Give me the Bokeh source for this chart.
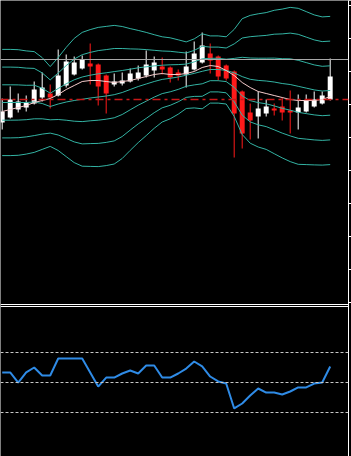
from bokeh.plotting import figure
from bokeh.models import Range1d, LinearAxis, FixedTicker, Span, BoxAnnotation, ColumnDataSource
from bokeh.embed import file_html
from bokeh.resources import INLINE

# ---- data (price units; axis labels are cut off) ----
opens  = [378, 383, 391, 393, 397, 403, 407, 405, 415, 426, 432, 437, 436, 425, 416, 417, 419, 422, 425, 430, 434,
          433, 428, 426, 431, 438, 447, 444, 435, 429, 409, 388, 384, 387, 392, 394, 390, 388, 389, 394, 397, 401]
closes = [389, 401, 399, 398, 411, 413, 403, 425, 439, 438, 441, 434, 414, 407, 419, 420, 427, 428, 436, 438, 431,
          423, 425, 434, 447, 455, 440, 424, 422, 387, 367, 380, 392, 394, 390, 388, 388, 393, 400, 401, 405, 424]
highs  = [402, 414, 407, 405, 419, 428, 416, 451, 446, 444, 445, 457, 437, 426, 427, 428, 432, 435, 450, 444, 443,
          434, 431, 449, 459, 468, 457, 445, 436, 430, 410, 397, 409, 401, 397, 403, 410, 406, 406, 409, 409, 442]
lows   = [371, 382, 388, 389, 396, 399, 392, 404, 413, 425, 431, 416, 395, 387, 414, 415, 418, 420, 423, 423, 426,
          418, 420, 413, 430, 437, 427, 420, 420, 343, 352, 361, 362, 384, 385, 380, 367, 371, 388, 393, 396, 400]
ma_fast = [389, 391, 393, 395, 398, 400, 402, 406, 411, 415, 419, 420, 420, 419, 418, 419, 420, 422, 424, 426, 427,
           426, 426, 427, 429, 433, 435, 434, 430, 425, 418, 413, 409, 407, 405, 403, 401, 400, 400, 400, 401, 404]
bb_mid = [398, 398, 398, 398, 398.5, 397, 394, 396.5, 398.5, 400, 401.2, 402.5, 403.5, 404.5, 405.8, 408, 411, 414,
          416.5, 419, 421.1, 422.2, 423.5, 425.3, 427.1, 429.2, 431, 431, 430.1, 427.6, 423.9, 421.2, 420.1, 419.5,
          418.5, 417, 416, 414.2, 412.4, 410.6, 409.5, 410]
bb_sigma = [17.7, 17.7, 17.6, 17.2, 16.8, 15.3, 13.3, 15.5, 18.2, 20.7, 22.3, 22.8, 23.2, 23.2, 23.1, 22, 20.3, 18.7,
            17.2, 15.6, 14.2, 13.5, 12.4, 11.1, 11.5, 12.5, 11.2, 11.2, 11.2, 14.5, 19.3, 21.3, 22.2, 22.8, 23.9,
            24.8, 25.7, 26, 25.5, 25, 24.7, 24.7]
bb_devs = [3, 2, 1, 0, -1, -2, -3]
osc = [56.7, 56.7, 50.0, 56.7, 60.0, 54.7, 54.7, 66.0, 66.0, 66.0, 66.0, 56.7, 47.3, 53.3, 53.3, 56.0, 58.0, 56.0,
       61.3, 61.3, 53.3, 53.3, 56.0, 59.3, 64.0, 60.7, 54.0, 50.7, 49.3, 32.7, 36.0, 41.3, 46.0, 43.3, 43.3, 42.0,
       44.0, 46.7, 46.7, 49.3, 50.0, 60.7]
osc_levels = [70, 50, 30]
price_ticks = [495, 462, 429, 396, 363, 330, 297, 264, 231, 198]
level_red = 401
level_gray = 441
panel_split = [196, 194]

n = len(closes)
idx = list(range(n))

TEAL = "#33b3a3"
RED = "#ff1a1a"

p = figure(width=351, height=456, output_backend="svg", toolbar_location=None,
           x_range=Range1d(-0.2125, 43.2875), y_range=Range1d(44, 500),
           x_axis_location=None, y_axis_location=None, min_border=0,
           background_fill_color="black", border_fill_color="black", outline_line_color=None)
p.grid.grid_line_color = None
p.extra_y_ranges = {"osc": Range1d(0.67, 304.67)}

ax = LinearAxis(ticker=FixedTicker(ticks=price_ticks), axis_line_color="white", axis_line_width=1,
                major_tick_line_color="white", major_tick_out=3, major_tick_in=0,
                minor_tick_line_color=None, major_label_text_font_size="0px",
                major_label_standoff=0, major_label_text_color=None)
p.add_layout(ax, "right")

# candles
up = [c >= o for o, c in zip(opens, closes)]
src = ColumnDataSource(dict(
    x=idx,
    top=[max(o, c) for o, c in zip(opens, closes)],
    bottom=[min(o, c) for o, c in zip(opens, closes)],
    high=highs, low=lows,
    color=["white" if u else RED for u in up],
))
p.segment(x0="x", x1="x", y0="low", y1="high", color="color", line_width=1, source=src)
p.vbar(x="x", width=0.62, top="top", bottom="bottom", fill_color="color", line_color=None, source=src)

# Bollinger-type bands
for k in bb_devs:
    p.line(idx, [m + k * s for m, s in zip(bb_mid, bb_sigma)], line_color=TEAL, line_width=1)

# fast MA
p.line(idx, ma_fast, line_color="#f6cccc", line_width=1)

# horizontal lines
p.add_layout(Span(location=level_gray, dimension="width", line_color="#a8a8a8", line_width=1))
p.add_layout(Span(location=level_red, dimension="width", line_color="#c81818", line_width=1.5,
                  line_dash="8 4 3 4"))

# panel separator (double white line)
for loc in panel_split:
    p.add_layout(Span(location=loc, dimension="width", line_color="white", line_width=1))

# price label box at right edge (its text is cut off by the window)
p.add_layout(BoxAnnotation(left=43.4125, right=43.8, bottom=level_gray - 6, top=level_gray + 5,
                           fill_color="white", fill_alpha=1, line_color=None))

# oscillator panel
for lv in osc_levels:
    p.add_layout(Span(location=lv, dimension="width", y_range_name="osc", line_color="#c8c8c8",
                      line_width=1, line_dash="3 2"))
p.line(idx, osc, y_range_name="osc", line_color="#2f8be6", line_width=2)

open("out.html", "w").write(file_html(p, INLINE))
